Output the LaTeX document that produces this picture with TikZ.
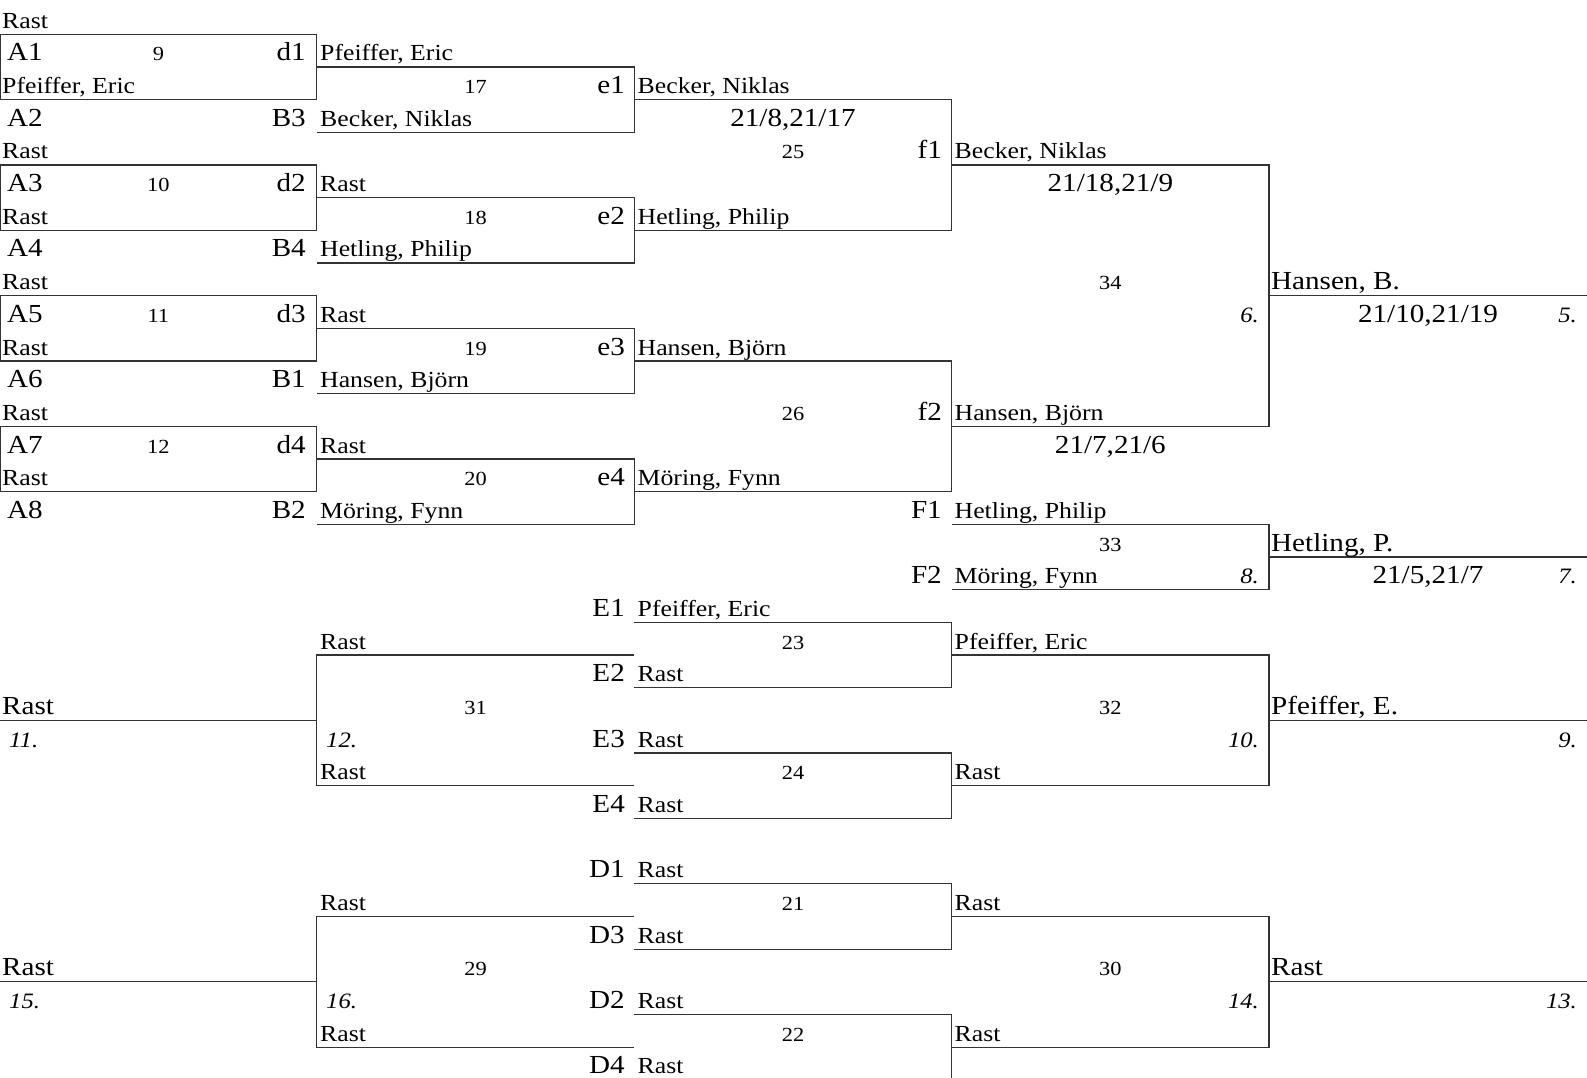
\documentclass[tikz,border=0pt]{standalone}
\usepackage{fontspec}
\setmainfont{Liberation Serif}[FakeStretch=1.12]
\newcommand\Ln[1]{34.3+32.67*#1}
\newcounter{tn}
\newcommand\tx[4]{\stepcounter{tn}\node[#1] (t\arabic{tn}) at (#2,\Ln{#3}-6) {#4};}
\tikzset{
  nm/.style={anchor=base west, font=\fontsize{23}{23}\selectfont, inner sep=0pt},
  bgw/.style={anchor=base west, font=\fontsize{26}{26}\selectfont, inner sep=0pt},
  bge/.style={anchor=base east, font=\fontsize{26}{26}\selectfont, inner sep=0pt},
  bgc/.style={anchor=base, font=\fontsize{26}{26}\selectfont, inner sep=0pt},
  num/.style={anchor=base, font=\fontsize{20}{20}\selectfont, inner sep=0pt},
  plw/.style={anchor=base west, font=\fontsize{22}{22}\selectfont\itshape, inner sep=0pt},
  ple/.style={anchor=base east, font=\fontsize{22}{22}\selectfont\itshape, inner sep=0pt},
  ln/.style={draw=black!80, line width=1.1pt},
}
\begin{document}
\begin{tikzpicture}[x=1pt,y=-1pt]
\useasboundingbox (0,0) rectangle (1587,1078);
\clip (0,0) rectangle (1587,1078);
% columns
\def\cA{0.6}\def\cB{316.7}\def\cC{634.3}\def\cD{951.7}\def\cE{1269}\def\cF{1587}
% ---- lines ----
\foreach \a/\b in {0/2,4/6,8/10,12/14}{
  \draw[ln] (\cA,\Ln{\a}) rectangle (\cB,\Ln{\b});
}
\foreach \a/\b in {1/3,5/7,9/11,13/15}{
  \draw[ln] (\cB,\Ln{\a}) -| (\cC,\Ln{\b}) -- (\cB,\Ln{\b});
}
\foreach \a/\b in {2/6,10/14,18/20,22/24,26/28,30/32}{
  \draw[ln] (\cC,\Ln{\a}) -| (\cD,\Ln{\b}) -- (\cC,\Ln{\b});
}
\foreach \a/\b in {4/12,15/17,19/23,27/31}{
  \draw[ln] (\cD,\Ln{\a}) -| (\cE,\Ln{\b}) -- (\cD,\Ln{\b});
}
\foreach \a/\b in {19/23,27/31}{
  \draw[ln] (\cC,\Ln{\a}) -| (\cB,\Ln{\b}) -- (\cC,\Ln{\b});
}
\foreach \r in {8,16,21,29}{
  \draw[ln] (\cE,\Ln{\r}) -- (\cF,\Ln{\r});
}
\foreach \r in {21,29}{
  \draw[ln] (0,\Ln{\r}) -- (\cB,\Ln{\r});
}
% ---- column 0 ----
\tx{nm}{2}{0}{Rast}
\tx{bgw}{7}{1}{A1}\tx{num}{158.35}{1}{9}\tx{bge}{306}{1}{d1}
\tx{nm}{2}{2}{Pfeiffer, Eric}
\tx{bgw}{7}{3}{A2}\tx{bge}{306}{3}{B3}
\tx{nm}{2}{4}{Rast}
\tx{bgw}{7}{5}{A3}\tx{num}{158.35}{5}{10}\tx{bge}{306}{5}{d2}
\tx{nm}{2}{6}{Rast}
\tx{bgw}{7}{7}{A4}\tx{bge}{306}{7}{B4}
\tx{nm}{2}{8}{Rast}
\tx{bgw}{7}{9}{A5}\tx{num}{158.35}{9}{11}\tx{bge}{306}{9}{d3}
\tx{nm}{2}{10}{Rast}
\tx{bgw}{7}{11}{A6}\tx{bge}{306}{11}{B1}
\tx{nm}{2}{12}{Rast}
\tx{bgw}{7}{13}{A7}\tx{num}{158.35}{13}{12}\tx{bge}{306}{13}{d4}
\tx{nm}{2}{14}{Rast}
\tx{bgw}{7}{15}{A8}\tx{bge}{306}{15}{B2}
\tx{bgw}{2}{21}{Rast}\tx{plw}{9}{22}{11.}
\tx{bgw}{2}{29}{Rast}\tx{plw}{9}{30}{15.}
% ---- column 1 ----
\tx{nm}{320}{1}{Pfeiffer, Eric}
\tx{num}{475.5}{2}{17}\tx{bge}{625}{2}{e1}
\tx{nm}{320}{3}{Becker, Niklas}
\tx{nm}{320}{5}{Rast}
\tx{num}{475.5}{6}{18}\tx{bge}{625}{6}{e2}
\tx{nm}{320}{7}{Hetling, Philip}
\tx{nm}{320}{9}{Rast}
\tx{num}{475.5}{10}{19}\tx{bge}{625}{10}{e3}
\tx{nm}{320}{11}{Hansen, Björn}
\tx{nm}{320}{13}{Rast}
\tx{num}{475.5}{14}{20}\tx{bge}{625}{14}{e4}
\tx{nm}{320}{15}{Möring, Fynn}
\tx{bge}{625}{18}{E1}\tx{bge}{625}{20}{E2}\tx{bge}{625}{22}{E3}\tx{bge}{625}{24}{E4}
\tx{nm}{320}{19}{Rast}\tx{num}{475.5}{21}{31}\tx{plw}{326}{22}{12.}\tx{nm}{320}{23}{Rast}
\tx{bge}{625}{26}{D1}\tx{bge}{625}{28}{D3}\tx{bge}{625}{30}{D2}\tx{bge}{625}{32}{D4}
\tx{nm}{320}{27}{Rast}\tx{num}{475.5}{29}{29}\tx{plw}{326}{30}{16.}\tx{nm}{320}{31}{Rast}
% ---- column 2 ----
\tx{nm}{637.5}{2}{Becker, Niklas}
\tx{bgc}{793}{3}{21/8,21/17}
\tx{num}{793}{4}{25}\tx{bge}{942}{4}{f1}
\tx{nm}{637.5}{6}{Hetling, Philip}
\tx{nm}{637.5}{10}{Hansen, Björn}
\tx{num}{793}{12}{26}\tx{bge}{942}{12}{f2}
\tx{nm}{637.5}{14}{Möring, Fynn}
\tx{bge}{942}{15}{F1}\tx{bge}{942}{17}{F2}
\tx{nm}{637.5}{18}{Pfeiffer, Eric}\tx{num}{793}{19}{23}\tx{nm}{637.5}{20}{Rast}
\tx{nm}{637.5}{22}{Rast}\tx{num}{793}{23}{24}\tx{nm}{637.5}{24}{Rast}
\tx{nm}{637.5}{26}{Rast}\tx{num}{793}{27}{21}\tx{nm}{637.5}{28}{Rast}
\tx{nm}{637.5}{30}{Rast}\tx{num}{793}{31}{22}\tx{nm}{637.5}{32}{Rast}
% ---- column 3 ----
\tx{nm}{954.5}{4}{Becker, Niklas}
\tx{bgc}{1110.35}{5}{21/18,21/9}
\tx{num}{1110.35}{8}{34}\tx{ple}{1259}{9}{6.}
\tx{nm}{954.5}{12}{Hansen, Björn}
\tx{bgc}{1110.35}{13}{21/7,21/6}
\tx{nm}{954.5}{15}{Hetling, Philip}
\tx{num}{1110.35}{16}{33}
\tx{nm}{954.5}{17}{Möring, Fynn}\tx{ple}{1259}{17}{8.}
\tx{nm}{954.5}{19}{Pfeiffer, Eric}\tx{num}{1110.35}{21}{32}\tx{ple}{1259}{22}{10.}\tx{nm}{954.5}{23}{Rast}
\tx{nm}{954.5}{27}{Rast}\tx{num}{1110.35}{29}{30}\tx{ple}{1259}{30}{14.}\tx{nm}{954.5}{31}{Rast}
% ---- column 4 ----
\tx{bgw}{1271}{8}{Hansen, B.}
\tx{bgc}{1428}{9}{21/10,21/19}\tx{ple}{1577}{9}{5.}
\tx{bgw}{1271}{16}{Hetling, P.}
\tx{bgc}{1428}{17}{21/5,21/7}\tx{ple}{1577}{17}{7.}
\tx{bgw}{1271}{21}{Pfeiffer, E.}\tx{ple}{1577}{22}{9.}
\tx{bgw}{1271}{29}{Rast}\tx{ple}{1577}{30}{13.}
\end{tikzpicture}
\end{document}
